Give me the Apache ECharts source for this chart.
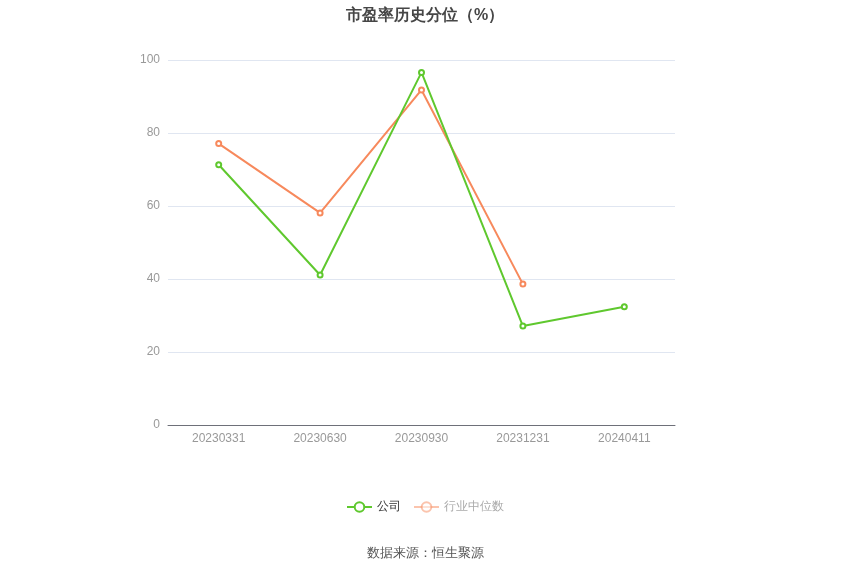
<!DOCTYPE html>
<html>
<head>
<meta charset="utf-8">
<script src="https://cdn.jsdelivr.net/npm/echarts@6/dist/echarts.min.js"></script>
<style>
html, body { margin: 0; padding: 0; background: #fff; }
#main { width: 850px; height: 575px; }
</style>
</head>
<body>
<div id="main"></div>
<script>
// 报告期
var dates = ['20230331', '20230630', '20230930', '20231231', '20240411'];
// 公司 市盈率历史分位
var company = [71.3, 41.1, 96.6, 27.1, 32.4];
// 行业中位数
var industry = [77.1, 58.1, 91.8, 38.6, null];
var yTicks = [0, 20, 40, 60, 80, 100];

var myChart = echarts.init(document.getElementById('main'));

var option = {
	backgroundColor : '#fff',
	title : {
		text : '市盈率历史分位（%）',
		left : 'center',
		top : 3,
		textStyle : {
			fontSize : 16,
			fontWeight : 'bold',
			color : '#464646'
		}
	},
	legend : {
		bottom : 57,
		left : 'center',
		itemWidth : 25,
		itemHeight : 12,
		itemGap : 12,
		textStyle : {
			fontSize : 12,
			color : '#333'
		},
		data : [ {
			name : '公司'
		}, {
			name : '行业中位数',
			textStyle : { color : '#aaa' },
			itemStyle : { opacity : 0.5 },
			lineStyle : { opacity : 0.5 }
		} ]
	},
	graphic : [ {
		type : 'text',
		left : 'center',
		top : 547,
		style : {
			text : '数据来源：恒生聚源',
			fontSize : 13,
			fill : '#555'
		}
	} ],
	grid : {
		left : 168,
		right : 175,
		top : 60,
		bottom : 150
	},
	xAxis : {
		type : 'category',
		data : dates,
		axisTick : {
			alignWithLabel : true,
			lineStyle : { color : '#6E7079' }
		},
		axisLine : {
			lineStyle : { color : '#6E7079' }
		},
		axisLabel : {
			color : '#999',
			fontSize : 12,
			margin : 8
		}
	},
	yAxis : {
		type : 'value',
		min : yTicks[0],
		max : yTicks[yTicks.length - 1],
		interval : 20,
		axisLabel : {
			color : '#999',
			fontSize : 12,
			margin : 8
		},
		splitLine : {
			lineStyle : { color : '#E0E6F1' }
		}
	},
	series : [ {
		name : '公司',
		type : 'line',
		data : company,
		symbol : 'emptyCircle',
		symbolSize : 5,
		itemStyle : { color : '#5FC82E' },
		lineStyle : { width : 2, color : '#5FC82E' },
		z : 3
	}, {
		name : '行业中位数',
		type : 'line',
		data : industry,
		symbol : 'emptyCircle',
		symbolSize : 5,
		itemStyle : { color : '#F7895C' },
		lineStyle : { width : 2, color : '#F7895C' },
		z : 2
	} ]
};

myChart.setOption(option);
</script>
</body>
</html>
